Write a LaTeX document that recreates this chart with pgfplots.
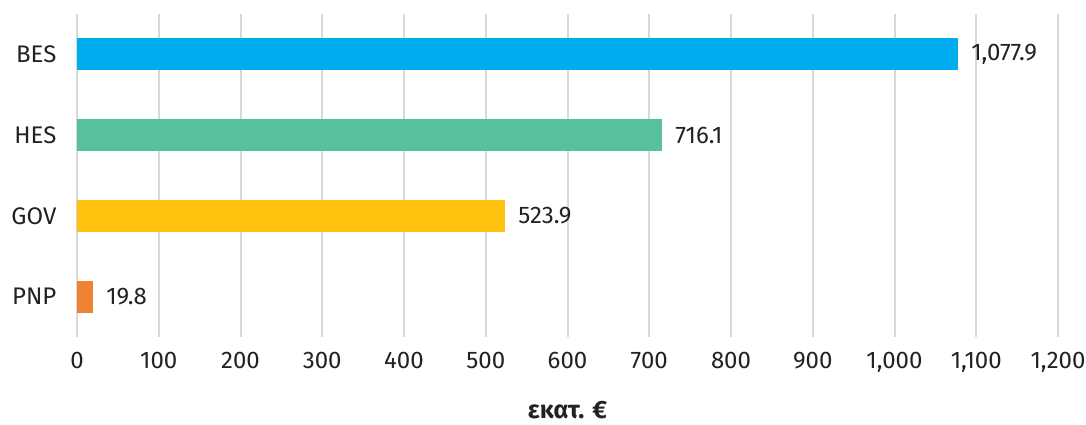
\documentclass[border=0pt]{standalone}
\usepackage{fontspec}
\setmainfont{Fira Sans}
\usepackage{pgfplots}
\pgfplotsset{compat=1.18}
\definecolor{cBES}{HTML}{00AEEF}
\definecolor{cHES}{HTML}{57C19C}
\definecolor{cGOV}{HTML}{FFC20E}
\definecolor{cPNP}{HTML}{EF8135}
\definecolor{txt}{HTML}{222222}
\definecolor{gridc}{HTML}{D9D9D9}
\begin{document}
\begin{tikzpicture}
\path[use as bounding box] (-38.5pt,-43.5pt) rectangle (504.5pt,168.5pt);
\begin{axis}[
  at={(0,0)}, anchor=south west,
  scale only axis,
  width=490.5pt, height=161.5pt,
  xbar, bar width=16pt, bar shift=0pt,
  xmin=0, xmax=1200,
  ymin=-0.5, ymax=3.5, y dir=reverse,
  ytick={0,1,2,3},
  yticklabels={BES,HES,GOV,PNP},
  xtick={0,100,...,1200},
  axis line style={draw=none},
  tick style={draw=none},
  xmajorgrids=true, ymajorgrids=false,
  major grid style={draw=gridc, line width=1pt},
  /pgf/number format/.cd, 1000 sep={,}, assume math mode=true,
  /pgfplots/.cd,
  tick label style={font=\fontsize{12}{14}\selectfont, text=txt},
  xticklabel style={yshift=-4pt},
  yticklabel style={xshift=-2.5pt},
  xlabel={\textbf{εκατ. €}},
  xlabel style={at={(rel axis cs:0.5,0)}, anchor=center, yshift=-36.5pt, font=\fontsize{12.5}{14}\selectfont, text=txt},
  nodes near coords,
  nodes near coords style={anchor=west, xshift=3pt, font=\fontsize{12}{14}\selectfont, text=txt,
    /pgf/number format/.cd, fixed, fixed zerofill, precision=1, 1000 sep={,}, assume math mode=true},
  every axis plot/.append style={draw=none},
]
\addplot[fill=cBES] coordinates {(1077.9,0)};
\addplot[fill=cHES] coordinates {(716.1,1)};
\addplot[fill=cGOV] coordinates {(523.9,2)};
\addplot[fill=cPNP] coordinates {(19.8,3)};
\end{axis}
\end{tikzpicture}
\end{document}
